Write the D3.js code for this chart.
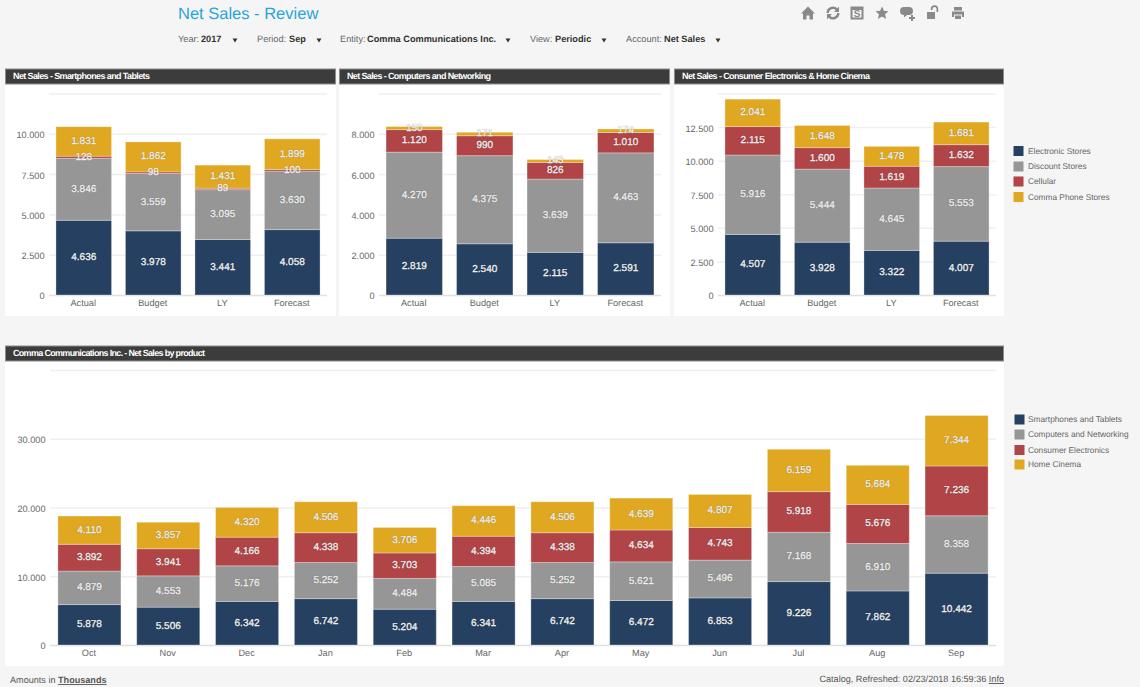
<!DOCTYPE html>
<html>
<head>
<meta charset="utf-8">
<script src="https://cdn.jsdelivr.net/npm/d3@7"></script>
<style>
  html, body { margin: 0; background: #f5f5f5; }
  svg { display: block; font-family: "Liberation Sans", Arial, sans-serif; text-rendering: geometricPrecision; }
  .tick text { fill: #666; font-size: 9.2px; }
  .grid line { stroke: #efefef; stroke-width: 1.5; }
  .grid path, .axis path { display: none; }
  .bar-label { fill: #fff; font-size: 10px; text-anchor: middle; dominant-baseline: central;
    stroke: #fff; stroke-width: 0.3px; text-shadow: 0 0 1px rgba(0,0,0,.35); }
</style>
</head>
<body>
<svg width="1140" height="687"></svg>
<script>
// chart values
const scenarios = ["Actual", "Budget", "LY", "Forecast"];
const channelNames = ["Electronic Stores", "Discount Stores", "Cellular", "Comma Phone Stores"];

const phonesElectronic = [4636, 3978, 3441, 4058];
const phonesDiscount = [3846, 3559, 3095, 3630];
const phonesCellular = [128, 98, 89, 100];
const phonesComma = [1831, 1862, 1431, 1899];

const computersElectronic = [2819, 2540, 2115, 2591];
const computersDiscount = [4270, 4375, 3639, 4463];
const computersCellular = [1120, 990, 826, 1010];
const computersComma = [150, 171, 143, 174];

const consumerElectronic = [4507, 3928, 3322, 4007];
const consumerDiscount = [5916, 5444, 4645, 5553];
const consumerCellular = [2115, 1600, 1619, 1632];
const consumerComma = [2041, 1648, 1478, 1681];

const months = ["Oct", "Nov", "Dec", "Jan", "Feb", "Mar", "Apr", "May", "Jun", "Jul", "Aug", "Sep"];
const productNames = ["Smartphones and Tablets", "Computers and Networking", "Consumer Electronics", "Home Cinema"];
const smartphones = [5878, 5506, 6342, 6742, 5204, 6341, 6742, 6472, 6853, 9226, 7862, 10442];
const computers = [4879, 4553, 5176, 5252, 4484, 5085, 5252, 5621, 5496, 7168, 6910, 8358];
const consumer = [3892, 3941, 4166, 4338, 3703, 4394, 4338, 4634, 4743, 5918, 5676, 7236];
const homeCinema = [4110, 3857, 4320, 4506, 3706, 4446, 4506, 4639, 4807, 6159, 5684, 7344];

const colors = ["#264061", "#969696", "#b04446", "#e0a720"];

const svg = d3.select("svg");
const fmt = d3.formatLocale({decimal: ",", thousands: ".", grouping: [3], currency: ["", ""]}).format(",d");

// page title
svg.append("text").attr("x", 178).attr("y", 19).attr("fill", "#29a3dc")
  .style("font-size", "16.5px").text("Net Sales - Review");

// filter bar
const filters = [
  {label: "Year:", x: 178, value: "2017", vx: 201, arrow: 235},
  {label: "Period:", x: 257, value: "Sep", vx: 289, arrow: 319},
  {label: "Entity:", x: 340, value: "Comma Communications Inc.", vx: 367, arrow: 508},
  {label: "View:", x: 530, value: "Periodic", vx: 555, arrow: 604},
  {label: "Account:", x: 626, value: "Net Sales", vx: 664, arrow: 718}
];
filters.forEach(function (f) {
  svg.append("text").attr("x", f.x).attr("y", 42).attr("fill", "#666").style("font-size", "9.2px").text(f.label);
  svg.append("text").attr("x", f.vx).attr("y", 42).attr("fill", "#333").style("font-size", "9.2px")
    .style("font-weight", "bold").text(f.value);
  svg.append("path").attr("fill", "#333")
    .attr("d", "M" + (f.arrow - 2.5) + ",38.5h5l-2.5,4z");
});

// toolbar icons
const icons = [
  {x: 808, d: "M0,-6.5L7,0.5H5V6.5H1.5V2.5H-1.5V6.5H-5V0.5H-7Z"},
  {x: 833, d: "M-6.5,0A6.5,6.5 0 0 1 4.5,-4.7L6,-6.5V-1H1L2.8,-2.9A4.2,4.2 0 0 0 -4.2,0ZM6.5,0A6.5,6.5 0 0 1 -4.5,4.7L-6,6.5V1H-1L-2.8,2.9A4.2,4.2 0 0 0 4.2,0Z"},
  {x: 857, d: "M-6.5,-6.5H6.5V6.5H-6.5ZM-4.5,-3V4.5H4.5V-3Z"},
  {x: 882, d: "M0,-6.5L1.9,-2.2L6.5,-1.8L3,1.3L4.1,5.9L0,3.4L-4.1,5.9L-3,1.3L-6.5,-1.8L-1.9,-2.2Z"},
  {x: 907, d: "M-3,-6H2A4,4 0 0 1 2,2H0L-3,4.5V2A4,4 0 0 1 -3,-6ZM4,2H6V4H8V6H6V8H4V6H2V4H4Z"},
  {x: 933, d: "M-6,-1H2V6H-6ZM3.5,-1V-4A2,2 0 0 0 -0.5,-4V-3H-2.2V-4A3.7,3.7 0 0 1 5.2,-4V-1Z"},
  {x: 958, d: "M-4,-6H4V-2.5H-4ZM-6,-1.5H6V4H4V1.5H-4V4H-6ZM-3,2.5H3V6H-3Z"}
];
svg.append("g").selectAll("path").data(icons).enter().append("path")
  .attr("transform", function (d) { return "translate(" + d.x + ",13)"; })
  .attr("fill", "#8a8a8a").attr("fill-rule", "evenodd")
  .attr("d", function (d) { return d.d; });
svg.append("text").attr("x", 857).attr("y", 17).attr("text-anchor", "middle").attr("fill", "#8a8a8a")
  .style("font-size", "10px").style("font-weight", "bold").text("S");

function drawPanel(p) {
  // white card and dark title strip
  svg.append("rect").attr("x", p.left).attr("y", p.top).attr("width", p.right - p.left)
    .attr("height", p.bottom - p.top).attr("fill", "#fff");
  svg.append("rect").attr("x", p.left + 0.5).attr("y", p.top - 15).attr("width", p.right - p.left - 1)
    .attr("height", 15).attr("fill", "#3c3c3c").attr("stroke", "#8c8c8c");
  svg.append("text").attr("x", p.left + 8).attr("y", p.top - 4.7).attr("fill", "#fff")
    .style("font-size", "9px").style("font-weight", "bold")
    .attr("textLength", p.titleWidth).attr("lengthAdjust", "spacing").text(p.title);

  const x = d3.scaleBand().domain(p.categories).range(p.xRange).paddingInner(0.2).paddingOuter(0.1);
  const y = d3.scaleLinear().domain([0, p.yMax]).range(p.yRange);

  const grid = svg.append("g").attr("class", "grid")
    .attr("transform", "translate(" + p.xRange[0] + ",0)")
    .call(d3.axisLeft(y).tickValues(d3.range(0, p.yMax + 1, p.yStep))
      .tickSize(-(p.xRange[1] - p.xRange[0])).tickFormat(""));
  grid.selectAll("line").filter(function (d) { return d === 0; }).style("stroke", "#e0e0e0");

  svg.append("g").attr("class", "axis")
    .attr("transform", "translate(" + (p.xRange[0] - 4.5) + ",1)")
    .call(d3.axisLeft(y).tickValues(p.labelTicks).tickSize(0).tickPadding(0).tickFormat(fmt));

  svg.append("g").attr("class", "axis")
    .attr("transform", "translate(-0.5," + (p.yRange[0] + 2) + ")")
    .call(d3.axisBottom(x).tickSize(0).tickPadding(2));

  const rows = p.categories.map(function (c, i) {
    const row = {category: c};
    p.series.forEach(function (s, k) { row[k] = s[i]; });
    return row;
  });
  const stacked = d3.stack().keys(p.series.map(function (s, k) { return k; }))(rows);

  const layers = svg.append("g").selectAll("g").data(stacked).enter().append("g")
    .attr("fill", function (d) { return colors[d.key]; });
  layers.selectAll("rect").data(function (d) { return d; }).enter().append("rect")
    .attr("x", function (d) { return x(d.data.category); })
    .attr("width", x.bandwidth())
    .attr("y", function (d) { return y(d[1]); })
    .attr("height", function (d) { return y(d[0]) - y(d[1]); })
    .attr("stroke", "rgba(255,255,255,.3)");

  // labels go on top of every bar, small segments overlap their neighbours
  const labels = svg.append("g");
  stacked.forEach(function (layer) {
    labels.selectAll(null).data(layer).enter().append("text")
      .attr("class", "bar-label")
      .attr("x", function (d) { return x(d.data.category) + x.bandwidth() / 2; })
      .attr("y", function (d) { return (y(d[0]) + y(d[1])) / 2; })
      .text(function (d) { return fmt(d[1] - d[0]); });
  });
}

drawPanel({
  title: "Net Sales - Smartphones and Tablets", titleWidth: 137,
  left: 5, right: 336, top: 84, bottom: 316,
  xRange: [49, 327], yRange: [295, 93.5], yMax: 12500, yStep: 2500,
  labelTicks: [0, 2500, 5000, 7500, 10000],
  categories: scenarios,
  series: [phonesElectronic, phonesDiscount, phonesCellular, phonesComma]
});
drawPanel({
  title: "Net Sales - Computers and Networking", titleWidth: 144,
  left: 339, right: 670, top: 84, bottom: 316,
  xRange: [379, 661], yRange: [295, 93.5], yMax: 10000, yStep: 2000,
  labelTicks: [0, 2000, 4000, 6000, 8000],
  categories: scenarios,
  series: [computersElectronic, computersDiscount, computersCellular, computersComma]
});
drawPanel({
  title: "Net Sales - Consumer Electronics & Home Cinema", titleWidth: 188,
  left: 674, right: 1004, top: 84, bottom: 316,
  xRange: [718, 996], yRange: [295, 93.5], yMax: 15000, yStep: 2500,
  labelTicks: [0, 2500, 5000, 7500, 10000, 12500],
  categories: scenarios,
  series: [consumerElectronic, consumerDiscount, consumerCellular, consumerComma]
});
drawPanel({
  title: "Comma Communications Inc. - Net Sales by product", titleWidth: 192,
  left: 5, right: 1004, top: 361, bottom: 666,
  xRange: [50, 996], yRange: [645, 370], yMax: 40000, yStep: 10000,
  labelTicks: [0, 10000, 20000, 30000],
  categories: months,
  series: [smartphones, computers, consumer, homeCinema]
});

function drawLegend(names, x, rowsY) {
  const g = svg.append("g").selectAll("g").data(names).enter().append("g")
    .attr("transform", function (d, i) { return "translate(" + x + "," + rowsY[i] + ")"; });
  g.append("rect").attr("x", 0).attr("y", -5).attr("width", 10).attr("height", 10)
    .attr("fill", function (d, i) { return colors[i]; });
  g.append("text").attr("x", 1028 - x).attr("dy", "0.34em").attr("fill", "#666")
    .style("font-size", "8.3px").text(function (d) { return d; });
}
drawLegend(channelNames, 1013.5, [151, 166.5, 181.5, 197]);
drawLegend(productNames, 1014.5, [419.5, 434.5, 450, 464.5]);

// footer
const left = svg.append("text").attr("x", 10).attr("y", 683).attr("fill", "#555").style("font-size", "9.1px");
left.append("tspan").text("Amounts in ");
left.append("tspan").style("font-weight", "bold").style("text-decoration", "underline").text("Thousands");
const right = svg.append("text").attr("x", 1004).attr("y", 682).attr("text-anchor", "end")
  .attr("fill", "#555").style("font-size", "9.1px");
right.append("tspan").text("Catalog, Refreshed: 02/23/2018 16:59:36 ");
right.append("tspan").style("text-decoration", "underline").text("Info");
</script>
</body>
</html>
